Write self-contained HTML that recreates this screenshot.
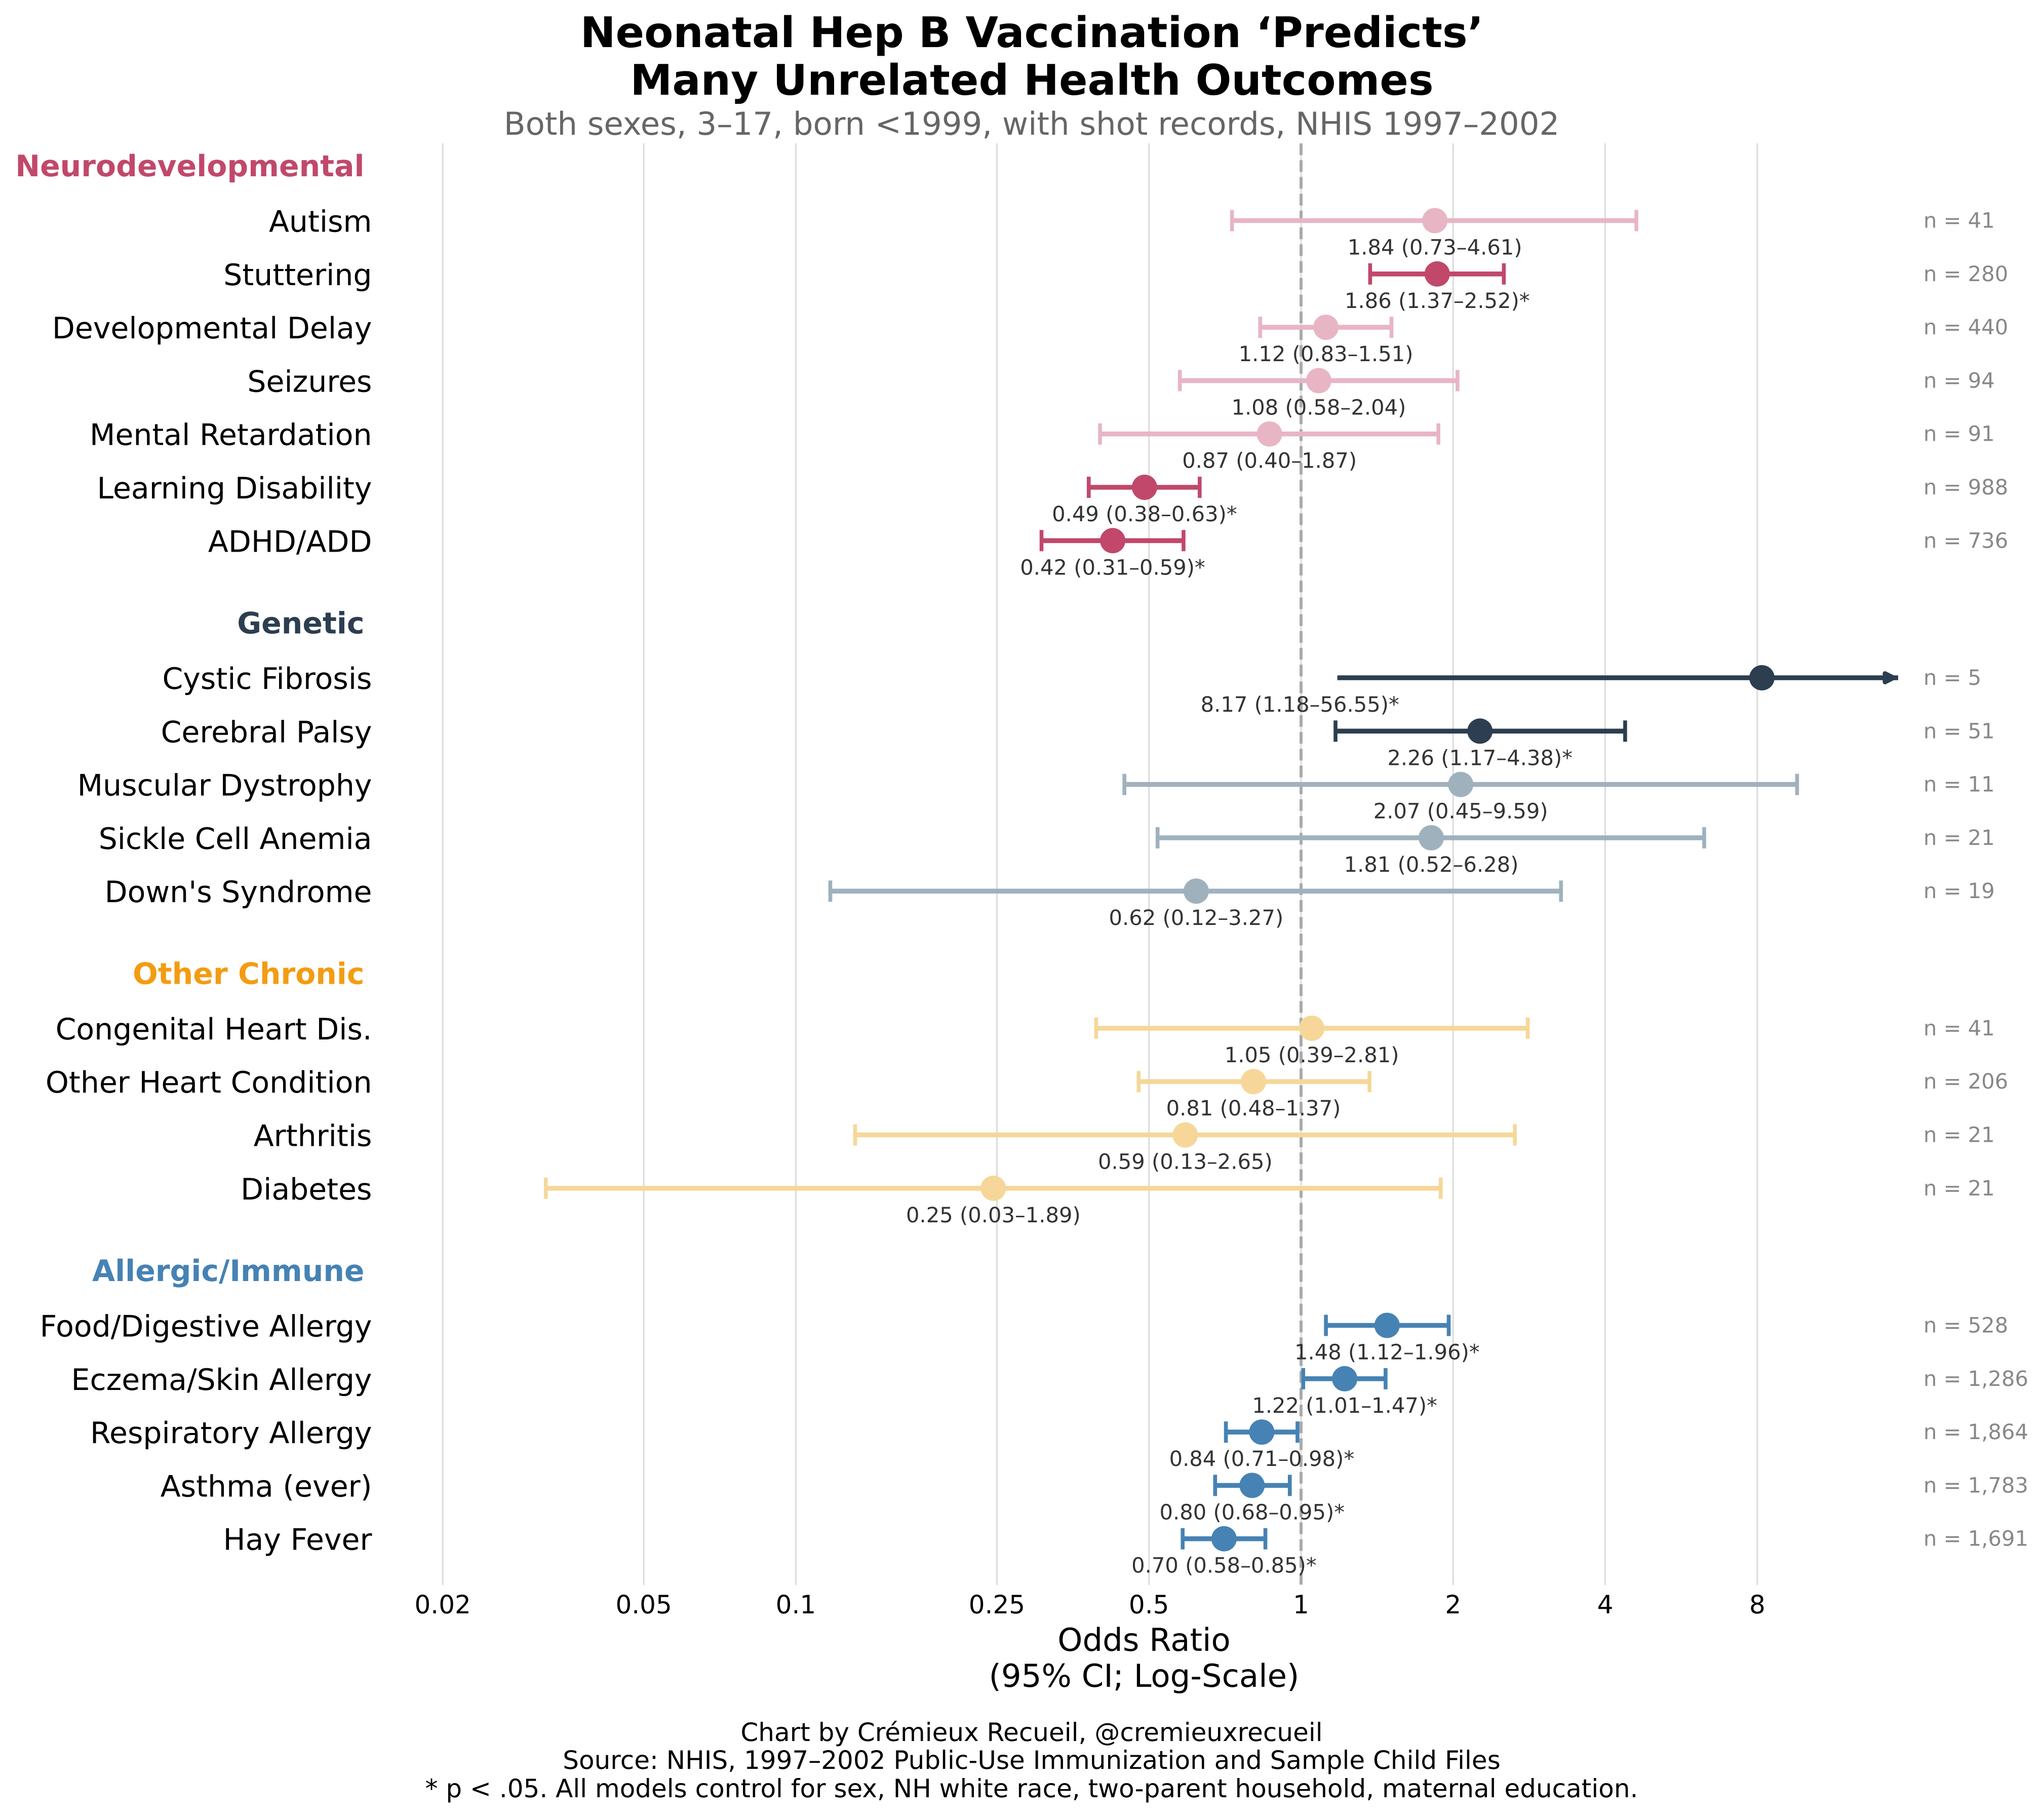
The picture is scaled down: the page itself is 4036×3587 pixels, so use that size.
<!DOCTYPE html>
<html lang="en">
<head>
<meta charset="utf-8">
<title>Neonatal Hep B Vaccination Forest Plot</title>
<style>
html,body{margin:0;padding:0;background:#fff;}
svg{display:block;text-rendering:geometricPrecision;}
text{font-family:"DejaVu Sans",sans-serif;}
</style>
</head>
<body>
<svg id="chart" xmlns="http://www.w3.org/2000/svg" width="4036" height="3587" viewBox="0 0 4036 3587">
  <rect width="4036" height="3587" fill="#ffffff"/>
  <g id="grid"></g>
  <g id="ref"></g>
  <g id="marks"></g>
  <g id="labels"></g>
  <g id="ticks"></g>
  <text x="2037.5" y="93" text-anchor="middle" font-size="83.4" font-weight="bold" fill="#000">Neonatal Hep B Vaccination ‘Predicts’</text>
  <text x="2037.5" y="187" text-anchor="middle" font-size="83.4" font-weight="bold" fill="#000">Many Unrelated Health Outcomes</text>
  <text x="2037" y="266" text-anchor="middle" font-size="62.5" fill="#666666">Both sexes, 3–17, born &lt;1999, with shot records, NHIS 1997–2002</text>
  <text x="2259" y="3259" text-anchor="middle" font-size="62.5" fill="#000">Odds Ratio</text>
  <text x="2259" y="3330" text-anchor="middle" font-size="62.5" fill="#000">(95% CI; Log-Scale)</text>
  <text x="2037" y="3437" text-anchor="middle" font-size="50" fill="#000">Chart by Crémieux Recueil, @cremieuxrecueil</text>
  <text x="2037" y="3492" text-anchor="middle" font-size="50" fill="#000">Source: NHIS, 1997–2002 Public-Use Immunization and Sample Child Files</text>
  <text x="2037" y="3548" text-anchor="middle" font-size="50" fill="#000">* p &lt; .05. All models control for sex, NH white race, two-parent household, maternal education.</text>
</svg>
<script>
var groupNames = ["Neurodevelopmental", "Genetic", "Other Chronic", "Allergic/Immune"];
var groupStrong = ["#c1486b", "#2c3e50", "#f39c12", "#4682b4"];
var groupLight = ["#e8b5c4", "#a0b1be", "#f6d799", "#4682b4"];
var groupOf = [0,0,0,0,0,0,0, 1,1,1,1,1, 2,2,2,2, 3,3,3,3,3];
var categories = ["Autism","Stuttering","Developmental Delay","Seizures","Mental Retardation","Learning Disability","ADHD/ADD","Cystic Fibrosis","Cerebral Palsy","Muscular Dystrophy","Sickle Cell Anemia","Down's Syndrome","Congenital Heart Dis.","Other Heart Condition","Arthritis","Diabetes","Food/Digestive Allergy","Eczema/Skin Allergy","Respiratory Allergy","Asthma (ever)","Hay Fever"];
var oddsRatio = [1.84,1.86,1.12,1.084,0.866,0.49,0.4238,8.17,2.26,2.07,1.81,0.62,1.05,0.805,0.59,0.246,1.48,1.22,0.836,0.80,0.704];
var ciLow = [0.73,1.37,0.83,0.5755,0.40,0.38,0.3064,1.18,1.17,0.447,0.52,0.117,0.393,0.477,0.131,0.032,1.12,1.01,0.71,0.676,0.583];
var ciHigh = [4.61,2.52,1.51,2.04,1.87,0.63,0.5853,56.55,4.38,9.59,6.28,3.27,2.81,1.366,2.65,1.89,1.96,1.47,0.984,0.95,0.85];
var significant = [0,1,0,0,0,1,1,1,1,0,0,0,0,0,0,0,1,1,1,1,1];
var sampleSize = ["41","280","440","94","91","988","736","5","51","11","21","19","41","206","21","21","528","1,286","1,864","1,783","1,691"];
var xTickValues = [0.02,0.05,0.1,0.25,0.5,1,2,4,8];
var xTickLabels = ["0.02","0.05","0.1","0.25","0.5","1","2","4","8"];
var xDomainMax = 15.2;

var NS = "http://www.w3.org/2000/svg";
var plotTop = 283, plotBottom = 3129;
var firstRowY = 435.5, rowStep = 105.3, groupGap = 165.4;

function xScale(v) { return 2569 + 300.3 * Math.log2(v); }
function yScale(i) {
  var g = groupOf[i];
  var y = firstRowY + i * rowStep;
  return y + g * (groupGap);
}
function headerY(g) {
  var i = groupOf.indexOf(g);
  return yScale(i) - rowStep;
}
function make(tag, parent, props) {
  var el = document.createElementNS(NS, tag);
  for (var k in props) el.setAttribute(k, props[k]);
  parent.appendChild(el);
  return el;
}
function slug(s) { return s.toLowerCase().replace(/[^a-z0-9]+/g, "-").replace(/^-|-$/g, ""); }

var gridG = document.getElementById("grid");
var refG = document.getElementById("ref");
var marksG = document.getElementById("marks");
var labelsG = document.getElementById("labels");
var ticksG = document.getElementById("ticks");

xTickValues.forEach(function (v, i) {
  var gl = make("line", gridG, {x1: xScale(v), x2: xScale(v), y1: plotTop, y2: plotBottom, stroke: "#dddddd", "stroke-width": 3.2});
  
  
  var tx = make("text", ticksG, {x: xScale(v), y: 3185, "text-anchor": "middle", "font-size": 50, fill: "#000"});
  tx.textContent = xTickLabels[i];
  
  
});

var refLine = make("line", refG, {x1: xScale(1), x2: xScale(1), y1: plotTop, y2: plotBottom, stroke: "#aaaaaa", "stroke-width": 6, "stroke-dasharray": "23.1 10.1"});



groupNames.forEach(function (name, g) {
  var h = make("text", labelsG, {x: 719.5, y: headerY(g) + 18, "text-anchor": "end", "font-size": 58.4, "font-weight": "bold", fill: groupStrong[g]});
  h.textContent = name;
  
  
});

categories.forEach(function (name, i) {
  var y = yScale(i);
  var g = groupOf[i];
  var color = significant[i] ? groupStrong[g] : groupLight[g];
  var key = slug(name);
  var clipped = ciHigh[i] > xDomainMax;
  var x0 = xScale(ciLow[i]);
  var x1 = clipped ? xScale(xDomainMax) : xScale(ciHigh[i]);
  var row = make("g", marksG, {});
  
  

  var bar = make("line", row, {x1: x0, x2: x1, y1: y, y2: y, stroke: color, "stroke-width": 9.6});
  
  

  if (clipped) {
    var tipX = x1 - 9;
    var arrow = make("polygon", row, {points: (tipX - 17) + "," + (y - 8.5) + " " + (tipX - 17) + "," + (y + 8.5) + " " + tipX + "," + y, fill: color, stroke: color, "stroke-width": 9, "stroke-linejoin": "round"});
    
    
  } else {
    var capL = make("line", row, {x1: x0, x2: x0, y1: y - 21, y2: y + 21, stroke: color, "stroke-width": 7.6});
    
    
    var capR = make("line", row, {x1: x1, x2: x1, y1: y - 21, y2: y + 21, stroke: color, "stroke-width": 7.6});
    
    
  }

  var dot = make("circle", row, {cx: xScale(oddsRatio[i]), cy: y, r: 25, fill: color});
  
  

  var cat = make("text", labelsG, {x: 734.5, y: y + 22, "text-anchor": "end", "font-size": 58.45, fill: "#000"});
  cat.textContent = name;
  
  

  var labelX = clipped ? x0 - 74 : xScale(oddsRatio[i]);
  var val = make("text", labelsG, {x: labelX, y: y + 67, "text-anchor": "middle", "font-size": 41.67, fill: "#333333"});
  val.textContent = oddsRatio[i].toFixed(2) + " (" + ciLow[i].toFixed(2) + "–" + ciHigh[i].toFixed(2) + ")" + (significant[i] ? "*" : "");
  
  

  var n = make("text", labelsG, {x: 3798, y: y + 14, "text-anchor": "start", "font-size": 41.67, fill: "#888888"});
  n.textContent = "n = " + sampleSize[i];
  
  
});
</script>
</body>
</html>
